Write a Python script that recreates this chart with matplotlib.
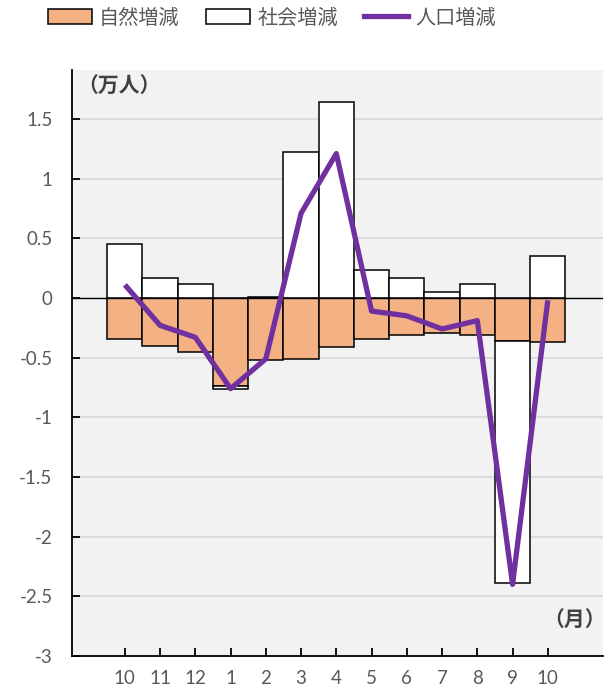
import matplotlib.pyplot as plt
from matplotlib.patches import Patch
from matplotlib.lines import Line2D
import numpy as np

# data (万人)
months = ['10', '11', '12', '1', '2', '3', '4', '5', '6', '7', '8', '9', '10']
natural = [-0.34, -0.40, -0.45, -0.74, -0.52, -0.51, -0.41, -0.34, -0.31, -0.29, -0.31, -0.36, -0.37]
social = [0.45, 0.17, 0.12, -0.02, 0.01, 1.22, 1.64, 0.23, 0.17, 0.05, 0.12, -2.03, 0.35]
population = [0.11, -0.23, -0.33, -0.76, -0.51, 0.71, 1.21, -0.11, -0.15, -0.26, -0.19, -2.40, -0.02]

cjk = ['Noto Sans CJK JP', 'DejaVu Sans']
gray = '#595959'
orange = '#f4b183'
purple = '#7030a0'

fig = plt.figure(figsize=(6.04, 6.93), dpi=100)
ax = fig.add_axes([0.1192, 0.0534, 0.8788, 0.8456])
ax.set_facecolor('#f2f2f2')

x = np.arange(len(months))
nat = np.array(natural)
soc = np.array(social)
soc_bottom = np.where(soc >= 0, 0, nat)

ax.bar(x, nat, width=1.0, color=orange, edgecolor='black', linewidth=1.1, zorder=3)
ax.bar(x, soc, width=1.0, bottom=soc_bottom, color='white', edgecolor='black', linewidth=1.1, zorder=3)
ax.plot(x, population, color=purple, linewidth=3.8, zorder=5, solid_capstyle='butt')
ax.axhline(0, color='black', linewidth=1.0, zorder=4)

ax.set_xlim(-1.5, 13.56)
ax.set_ylim(-3, 1.91)
ticks = np.arange(-3, 1.51, 0.5)
ax.set_yticks(ticks)
ax.set_yticklabels(['%g' % t for t in ticks])
for t in ticks:
    if t not in (0, -3):
        ax.axhline(t, color='#d9d9d9', linewidth=1.3, zorder=1)
ax.set_xticks(x)
ax.set_xticklabels(months)

for s in ['top', 'right']:
    ax.spines[s].set_visible(False)
for s in ['left', 'bottom']:
    ax.spines[s].set_linewidth(1.3)
ax.tick_params(axis='y', direction='in', length=6, width=1.3, pad=14, labelsize=13.5, labelcolor=gray)
ax.tick_params(axis='x', direction='in', length=6, width=1.3, pad=10, labelsize=13.5, labelcolor=gray)
for lab in ax.get_xticklabels() + ax.get_yticklabels():
    lab.set_family('Lato')

ax.text(0.01, 0.99, '（万人）', transform=ax.transAxes, family=cjk, fontsize=15,
        fontweight='bold', color='#404040', va='top', ha='left')
ax.text(1.005, 0.062, '（月）', transform=ax.transAxes, family=cjk, fontsize=15,
        fontweight='bold', color='#404040', va='center', ha='right')

handles = [Patch(facecolor=orange, edgecolor='black', linewidth=1.1),
           Patch(facecolor='white', edgecolor='black', linewidth=1.1),
           Line2D([], [], color=purple, linewidth=3.8)]
leg = fig.legend(handles, ['自然増減', '社会増減', '人口増減'], loc='center',
                 bbox_to_anchor=(0.45, 0.974), ncol=3, frameon=False,
                 prop={'family': cjk, 'size': 14.5}, handlelength=2.2,
                 handletextpad=0.36, columnspacing=1.3, borderpad=0)
for t in leg.get_texts():
    t.set_color(gray)

fig.savefig('out.png', dpi=100)
